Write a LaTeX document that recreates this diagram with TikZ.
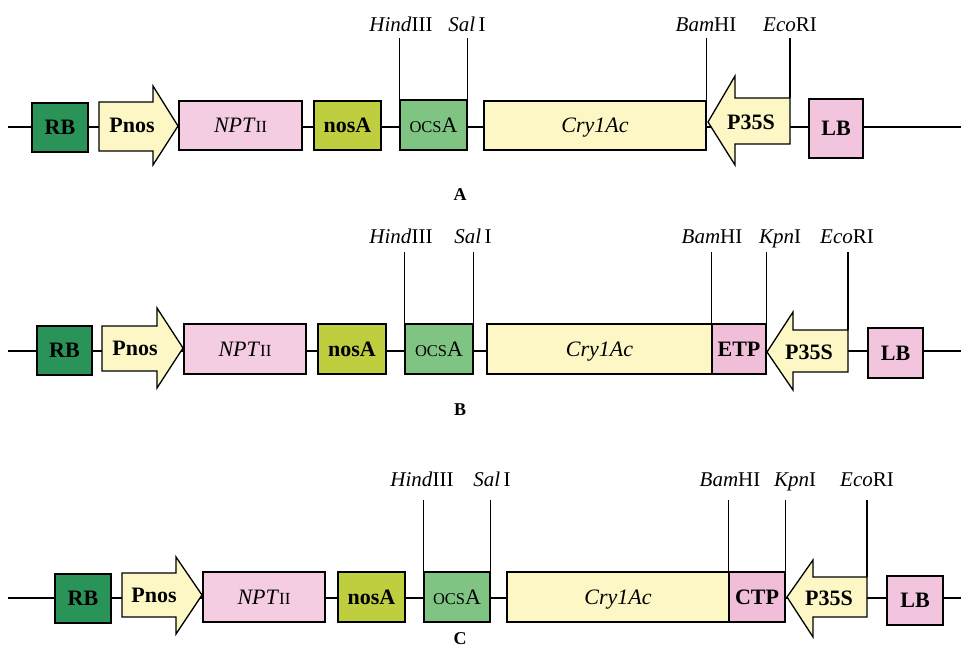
\documentclass[tikz,border=0pt]{standalone}
\usepackage{fontspec}
\setmainfont{Liberation Serif}
\definecolor{rbgreen}{RGB}{42,148,88}
\definecolor{lyellow}{RGB}{252,247,196}
\definecolor{npink}{RGB}{245,205,226}
\definecolor{nosgreen}{RGB}{190,206,62}
\definecolor{ocsgreen}{RGB}{128,196,132}
\definecolor{lbpink}{RGB}{242,196,221}
\definecolor{tppink}{RGB}{240,190,216}
\tikzset{
  gene/.style={draw=black, line width=1.3pt, inner sep=0pt, text height=14.5pt, text depth=0pt, font=\fontsize{22}{24}\selectfont},
  boldgene/.style={gene, font=\fontsize{22}{24}\selectfont\bfseries},
  arrowshape/.style={draw=black, line width=1.3pt, fill=lyellow, line join=miter},
  arrowtext/.style={inner sep=0pt, text height=14.5pt, text depth=0pt, font=\fontsize{22}{24}\selectfont\bfseries},
  site/.style={inner sep=0pt, text height=13.5pt, text depth=0pt, font=\fontsize{21}{23}\selectfont},
  siteline/.style={draw=black, line width=1.3pt},
  backbone/.style={draw=black, line width=1.3pt},
  rowlabel/.style={inner sep=0pt, text height=12pt, text depth=0pt, font=\fontsize{18}{20}\selectfont\bfseries}
}
\newcommand\gbox[7]{\node[#6,minimum width=#4pt-#2pt,minimum height=#5pt-#3pt] (#1) at ({(#2+#4)/2},{(#3+#5)/2}) {#7};}
\newcommand\ocs{{\fontsize{16.5}{16.5}\selectfont OCS}A}
\newcommand\npt{\textit{NPT}{\fontsize{17}{17}\selectfont II}}
\begin{document}
\begin{tikzpicture}[x=1pt,y=-1pt]
\useasboundingbox (0,0) rectangle (961,646);
\fill[white] (0,0) rectangle (961,646);

% ================= Row A =================
\coordinate (A-l) at (8,127);
\coordinate (A-r) at (961,127);
\draw[backbone] (A-l) -- (A-r);
\gbox{A-rb}{32}{103}{88}{152}{boldgene,fill=rbgreen}{RB}
\draw[arrowshape] (99,102) -- (153,102) -- (153,86) -- (178,126) -- (153,165) -- (153,151) -- (99,151) -- cycle;
\node[arrowtext] (A-pnos) at (132,125) {Pnos};
\gbox{A-npt}{179}{101}{302}{150}{gene,fill=npink}{\npt}
\gbox{A-nos}{314}{101}{381}{150}{boldgene,fill=nosgreen}{nosA}
\gbox{A-ocs}{400}{100}{467}{150}{gene,fill=ocsgreen}{\ocs}
\gbox{A-cry}{484}{101}{706}{150}{gene,fill=lyellow}{\textit{Cry1Ac}}
\draw[arrowshape] (790,98) -- (735,98) -- (735,76) -- (708,122) -- (735,165) -- (735,144) -- (790,144) -- cycle;
\node[arrowtext] (A-p35s) at (751,122) {P35S};
\gbox{A-lb}{809}{99}{863}{158}{boldgene,fill=lbpink}{LB}
\node[site] (A-hind) at (401,25) {\textit{Hind}III};
\node[site] (A-sal) at (467,25) {\textit{Sal}\,I};
\node[site] (A-bam) at (706,25) {\textit{Bam}HI};
\node[site] (A-eco) at (790,25) {\textit{Eco}RI};
\draw[siteline] (A-ocs.north west) -- (A-ocs.north west |- 0,38);
\draw[siteline] (A-ocs.north east) -- (A-ocs.north east |- 0,38);
\draw[siteline] (A-cry.north east) -- (A-cry.north east |- 0,38);
\coordinate (A-ecop) at (790,98);
\draw[siteline] (A-ecop) -- (790,38);
\node[rowlabel] (A-lab) at (460,194) {A};

% ================= Row B =================
\coordinate (B-l) at (8,351);
\coordinate (B-r) at (961,351);
\draw[backbone] (B-l) -- (B-r);
\gbox{B-rb}{37}{326}{92}{375}{boldgene,fill=rbgreen}{RB}
\draw[arrowshape] (102,326) -- (157,326) -- (157,308) -- (183,348) -- (157,388) -- (157,371) -- (102,371) -- cycle;
\node[arrowtext] (B-pnos) at (135,348) {Pnos};
\gbox{B-npt}{184}{324}{306}{374}{gene,fill=npink}{\npt}
\gbox{B-nos}{318}{324}{386}{374}{boldgene,fill=nosgreen}{nosA}
\gbox{B-ocs}{405}{324}{473}{374}{gene,fill=ocsgreen}{\ocs}
\gbox{B-cry}{487}{324}{712}{374}{gene,fill=lyellow}{\textit{Cry1Ac}}
\gbox{B-etp}{712}{324}{766}{374}{boldgene,fill=tppink}{ETP}
\draw[arrowshape] (848,330) -- (793,330) -- (793,312) -- (767,352) -- (793,390) -- (793,372) -- (848,372) -- cycle;
\node[arrowtext] (B-p35s) at (809,352) {P35S};
\gbox{B-lb}{868}{328}{923}{378}{boldgene,fill=lbpink}{LB}
\node[site] (B-hind) at (401,237) {\textit{Hind}III};
\node[site] (B-sal) at (473,237) {\textit{Sal}\,I};
\node[site] (B-bam) at (712,237) {\textit{Bam}HI};
\node[site] (B-kpn) at (780,237) {\textit{Kpn}I};
\node[site] (B-eco) at (847,237) {\textit{Eco}RI};
\draw[siteline] (B-ocs.north west) -- (B-ocs.north west |- 0,252);
\draw[siteline] (B-ocs.north east) -- (B-ocs.north east |- 0,252);
\draw[siteline] (B-etp.north west) -- (B-etp.north west |- 0,252);
\draw[siteline] (B-etp.north east) -- (B-etp.north east |- 0,252);
\coordinate (B-ecop) at (848,330);
\draw[siteline] (B-ecop) -- (848,252);
\node[rowlabel] (B-lab) at (460,409) {B};

% ================= Row C =================
\coordinate (C-l) at (8,598);
\coordinate (C-r) at (961,598);
\draw[backbone] (C-l) -- (C-r);
\gbox{C-rb}{55}{574}{111}{623}{boldgene,fill=rbgreen}{RB}
\draw[arrowshape] (122,573) -- (176,573) -- (176,557) -- (202,595) -- (176,634) -- (176,617) -- (122,617) -- cycle;
\node[arrowtext] (C-pnos) at (154,595) {Pnos};
\gbox{C-npt}{203}{572}{325}{622}{gene,fill=npink}{\npt}
\gbox{C-nos}{338}{572}{405}{622}{boldgene,fill=nosgreen}{nosA}
\gbox{C-ocs}{424}{572}{490}{622}{gene,fill=ocsgreen}{\ocs}
\gbox{C-cry}{507}{572}{729}{622}{gene,fill=lyellow}{\textit{Cry1Ac}}
\gbox{C-ctp}{729}{572}{785}{622}{boldgene,fill=tppink}{CTP}
\draw[arrowshape] (867,577) -- (813,577) -- (813,560) -- (787,597) -- (813,637) -- (813,617) -- (867,617) -- cycle;
\node[arrowtext] (C-p35s) at (829,598) {P35S};
\gbox{C-lb}{887}{576}{943}{625}{boldgene,fill=lbpink}{LB}
\node[site] (C-hind) at (422,480) {\textit{Hind}III};
\node[site] (C-sal) at (492,480) {\textit{Sal}\,I};
\node[site] (C-bam) at (730,480) {\textit{Bam}HI};
\node[site] (C-kpn) at (795,480) {\textit{Kpn}I};
\node[site] (C-eco) at (867,480) {\textit{Eco}RI};
\draw[siteline] (C-ocs.north west) -- (C-ocs.north west |- 0,500);
\draw[siteline] (C-ocs.north east) -- (C-ocs.north east |- 0,500);
\draw[siteline] (C-ctp.north west) -- (C-ctp.north west |- 0,500);
\draw[siteline] (C-ctp.north east) -- (C-ctp.north east |- 0,500);
\coordinate (C-ecop) at (867,577);
\draw[siteline] (C-ecop) -- (867,500);
\node[rowlabel] (C-lab) at (460,638) {C};
\end{tikzpicture}
\end{document}
